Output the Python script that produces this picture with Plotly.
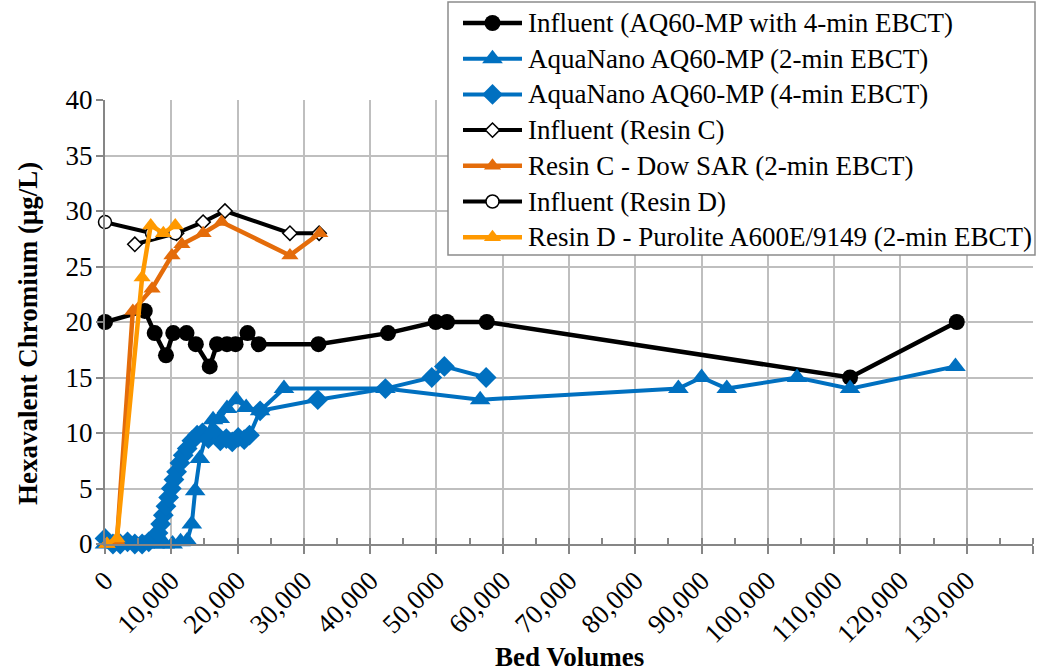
import math
import plotly.graph_objects as go

# Bed volumes (x) and hexavalent chromium (ug/L, y) for each column run
infl_aq_x = [0, 6000, 7500, 9200, 10300, 12300, 13700, 15800, 16900, 18400, 19700,
             21500, 23200, 32200, 42700, 49900, 51600, 57600, 112400, 128500]
infl_aq_y = [20, 21, 19, 17, 19, 19, 18, 16, 18, 18, 18,
             19, 18, 18, 19, 20, 20, 20, 15, 20]

aq2_x = [0, 1500, 3000, 4500, 6000, 7500, 9000, 10200, 11400, 12400, 13100, 13600,
         14300, 15300, 16300, 17300, 18400, 19800, 21300, 23400, 27000, 42300,
         56600, 86500, 90000, 93800, 104400, 112400, 128300]
aq2_y = [0, 0, 0, 0, 0, 0, 0, 0, 0.2, 0.3, 1.8, 4.8,
         7.7, 9.8, 11.2, 11.3, 12.2, 13, 12.3, 12, 14, 14,
         13, 14, 15, 14, 15, 14, 16]

aq4_x = [0, 1200, 2300, 3400, 4500, 5600, 6600, 7400, 8000, 8400, 8800, 9200,
         9600, 10000, 10400, 10800, 11300, 11800, 12400, 13100, 13900, 14700,
         15600, 16500, 17400, 18300, 19200, 20100, 21000, 21800, 23400, 32100,
         42300, 49300, 51200, 57500]
aq4_y = [0.5, 0, 0, 0.2, 0, 0, 0.2, 0.5, 1, 1.8, 2.6, 3.4,
         4.2, 5, 5.8, 6.5, 7.3, 8, 8.6, 9.3, 9.8, 10,
         9.5, 10, 9.3, 9.5, 9.2, 9.6, 9.4, 9.8, 12, 13,
         14, 15, 16, 15]

infl_c_x = [4500, 10800, 14800, 18100, 27900, 32300]
infl_c_y = [27, 28, 29, 30, 28, 28]

resin_c_x = [300, 1800, 4200, 7100, 10100, 11600, 14800, 17600, 27900, 32400]
resin_c_y = [0, 0.3, 21, 23, 26, 27, 28, 29, 26, 28]

infl_d_x = [0, 7100, 10600]
infl_d_y = [29, 28, 28]

resin_d_x = [300, 1800, 5600, 6900, 8800, 10600]
resin_d_y = [0, 0.5, 24, 28.7, 28, 28.7]

x_ticks = list(range(0, 140001, 10000))
y_ticks = list(range(0, 41, 5))

BLACK = "#000000"
BLUE = "#0070C0"
DARK_ORANGE = "#E46C0A"
LIGHT_ORANGE = "#FF9900"
FONT = "Liberation Serif"

# Figure geometry (pixels)
W, H = 1039, 671
ML, MR, MT, MB = 105, 6, 100, 127
PW, PH = W - ML - MR, H - MT - MB

# Series: name, x, y, line colour, line width, marker symbol, size, fill, outline
series = [
    ("Influent (AQ60-MP with 4-min EBCT)", infl_aq_x, infl_aq_y, BLACK, 4.5, "circle", 16, BLACK, None),
    ("AquaNano AQ60-MP (2-min EBCT)", aq2_x, aq2_y, BLUE, 4, "triangle-up", 18, BLUE, None),
    ("AquaNano AQ60-MP (4-min EBCT)", aq4_x, aq4_y, BLUE, 4, "diamond", 16, BLUE, None),
    ("Influent (Resin C)", infl_c_x, infl_c_y, BLACK, 4, "diamond", 11, "white", BLACK),
    ("Resin C - Dow SAR (2-min EBCT)", resin_c_x, resin_c_y, DARK_ORANGE, 4.5, "triangle-up", 15, DARK_ORANGE, None),
    ("Influent (Resin D)", infl_d_x, infl_d_y, BLACK, 4, "circle", 13, "white", BLACK),
    ("Resin D - Purolite A600E/9149 (2-min EBCT)", resin_d_x, resin_d_y, LIGHT_ORANGE, 4.5, "triangle-up", 15, LIGHT_ORANGE, None),
]

fig = go.Figure()
for name, xs, ys, col, lw, sym, size, fill, outline in series:
    mk = dict(symbol=sym, size=size, color=fill)
    if outline:
        mk["line"] = dict(color=outline, width=1.5)
    fig.add_trace(go.Scatter(
        x=xs, y=ys, mode="lines+markers", name=name,
        line=dict(color=col, width=lw), marker=mk, cliponaxis=False,
        showlegend=False))


# Legend drawn in paper coordinates with longer line samples
def px_x(p):
    return (p - ML) / PW


def px_y(p):
    return (H - MB - p) / PH


def marker_path(sym, size, cx, cy):
    r = size / 2
    if sym == "triangle-up":
        rt, rs = r * 2 / math.sqrt(3), r / 2
        pts = [(-rt, rs), (rt, rs), (0, -r)]
    else:
        rd = r * 1.3
        pts = [(rd, 0), (0, rd), (-rd, 0), (0, -rd)]
    d = "M " + " L ".join(f"{px_x(cx + dx):.5f},{px_y(cy + dy):.5f}" for dx, dy in pts) + " Z"
    return d


shapes = [dict(type="rect", xref="paper", yref="paper",
               x0=px_x(448), x1=px_x(1035), y0=px_y(255), y1=px_y(2),
               line=dict(color="#8C8C8C", width=1.5), fillcolor="white", layer="above")]
annotations = []
row0, row_step = 23, 35.7
for i, (name, xs, ys, col, lw, sym, size, fill, outline) in enumerate(series):
    cy = row0 + i * row_step
    shapes.append(dict(type="line", xref="paper", yref="paper",
                       x0=px_x(463), x1=px_x(522), y0=px_y(cy), y1=px_y(cy),
                       line=dict(color=col, width=lw), layer="above"))
    cx = 492.5
    mline = dict(color=outline, width=1.5) if outline else dict(width=0)
    if sym == "circle":
        r = size / 2
        shapes.append(dict(type="circle", xref="paper", yref="paper",
                           x0=px_x(cx - r), x1=px_x(cx + r), y0=px_y(cy + r), y1=px_y(cy - r),
                           fillcolor=fill, line=mline, layer="above"))
    else:
        shapes.append(dict(type="path", xref="paper", yref="paper",
                           path=marker_path(sym, size, cx, cy),
                           fillcolor=fill, line=mline, layer="above"))
    annotations.append(dict(text=name, xref="paper", yref="paper",
                            x=px_x(526), y=px_y(cy), xanchor="left", yanchor="middle",
                            showarrow=False, font=dict(family=FONT, size=27, color="black")))

annotations += [
    dict(text="<b>Bed Volumes</b>", xref="paper", yref="paper",
         x=0.5, y=px_y(657), xanchor="center", yanchor="middle",
         showarrow=False, font=dict(family=FONT, size=27)),
    dict(text="<b>Hexavalent Chromium (μg/L)</b>", xref="paper", yref="paper",
         x=px_x(28), y=px_y(334), xanchor="center", yanchor="middle", textangle=-90,
         showarrow=False, font=dict(family=FONT, size=27)),
]

fig.update_layout(
    width=W, height=H,
    margin=dict(l=ML, r=MR, t=MT, b=MB),
    paper_bgcolor="white", plot_bgcolor="white",
    font=dict(family=FONT, size=27, color="black"),
    showlegend=False,
    xaxis=dict(
        range=[0, 140000], tickvals=x_ticks, tickformat=",",
        tickangle=-45, showgrid=True, gridcolor="#BFBFBF", gridwidth=1.5,
        showline=True, linecolor="#868686", linewidth=2,
        ticks="outside", ticklen=8, tickcolor="#868686", tickwidth=2,
        minor=dict(dtick=5000, ticks="inside", ticklen=6, tickcolor="#868686",
                   tickwidth=2, showgrid=False),
        zeroline=False, tickfont=dict(family=FONT, size=27),
    ),
    yaxis=dict(
        range=[0, 40], tickvals=y_ticks, showgrid=True,
        gridcolor="#BFBFBF", gridwidth=1.5,
        showline=True, linecolor="#868686", linewidth=2,
        ticks="outside", ticklen=7, tickcolor="#868686", tickwidth=2,
        ticklabelstandoff=-2,
        zeroline=False, tickfont=dict(family=FONT, size=27),
    ),
    shapes=shapes,
    annotations=annotations,
)

fig.write_html("out.html")
